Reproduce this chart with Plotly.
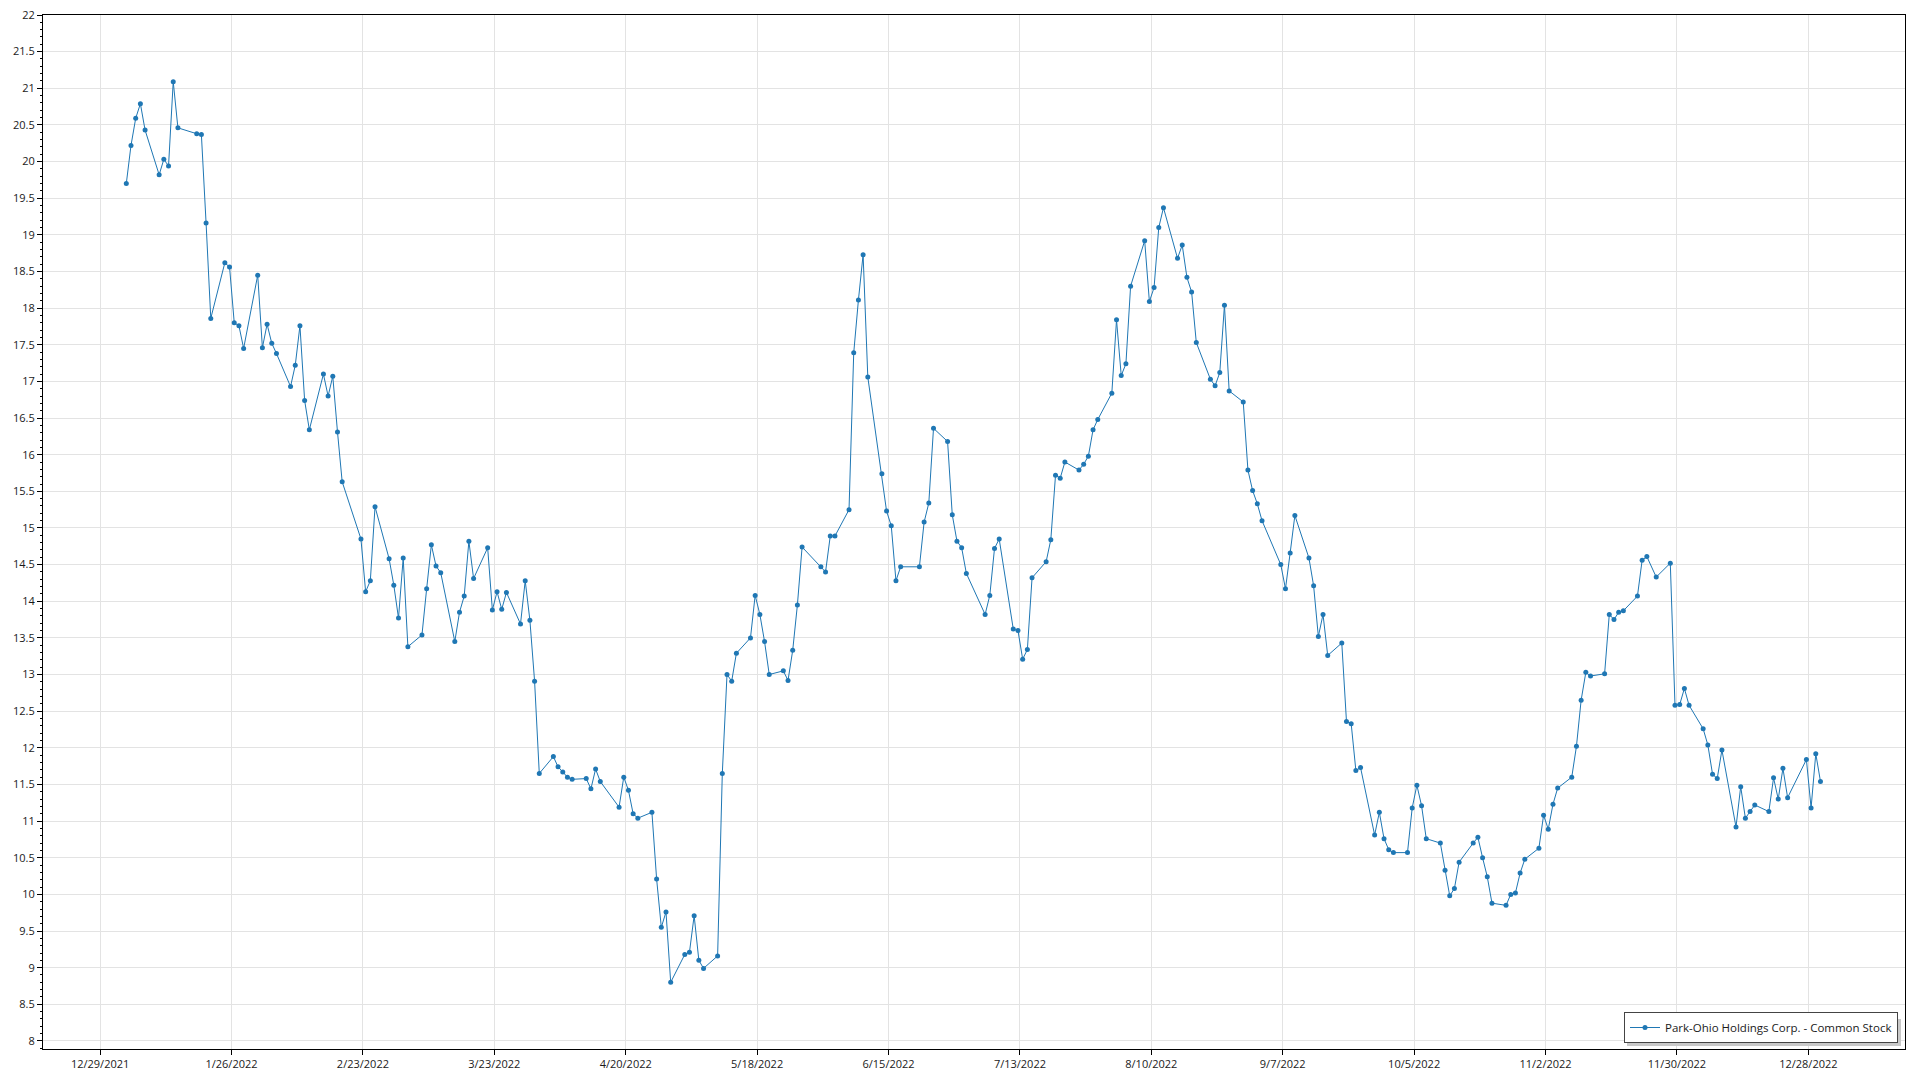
import plotly.graph_objects as go
import pandas as pd

series_name = "Park-Ohio Holdings Corp. - Common Stock"

dates = [
    # Jan 2022
    "2022-01-03", "2022-01-04", "2022-01-05", "2022-01-06", "2022-01-07",
    "2022-01-10", "2022-01-11", "2022-01-12", "2022-01-13", "2022-01-14",
    "2022-01-18", "2022-01-19", "2022-01-20", "2022-01-21",
    "2022-01-24", "2022-01-25", "2022-01-26", "2022-01-27", "2022-01-28", "2022-01-31",
    # Feb
    "2022-02-01", "2022-02-02", "2022-02-03", "2022-02-04",
    "2022-02-07", "2022-02-08", "2022-02-09", "2022-02-10", "2022-02-11",
    "2022-02-14", "2022-02-15", "2022-02-16", "2022-02-17", "2022-02-18",
    "2022-02-22", "2022-02-23", "2022-02-24", "2022-02-25", "2022-02-28",
    # Mar
    "2022-03-01", "2022-03-02", "2022-03-03", "2022-03-04",
    "2022-03-07", "2022-03-08", "2022-03-09", "2022-03-10", "2022-03-11",
    "2022-03-14", "2022-03-15", "2022-03-16", "2022-03-17", "2022-03-18",
    "2022-03-21", "2022-03-22", "2022-03-23", "2022-03-24", "2022-03-25",
    "2022-03-28", "2022-03-29", "2022-03-30", "2022-03-31",
    # Apr
    "2022-04-01", "2022-04-04", "2022-04-05", "2022-04-06", "2022-04-07", "2022-04-08",
    "2022-04-11", "2022-04-12", "2022-04-13", "2022-04-14",
    "2022-04-18", "2022-04-19", "2022-04-20", "2022-04-21", "2022-04-22",
    "2022-04-25", "2022-04-26", "2022-04-27", "2022-04-28", "2022-04-29",
    # May
    "2022-05-02", "2022-05-03", "2022-05-04", "2022-05-05", "2022-05-06",
    "2022-05-09", "2022-05-10", "2022-05-11", "2022-05-12", "2022-05-13",
    "2022-05-16", "2022-05-17", "2022-05-18", "2022-05-19", "2022-05-20",
    "2022-05-23", "2022-05-24", "2022-05-25", "2022-05-26", "2022-05-27",
    "2022-05-31",
    # Jun
    "2022-06-01", "2022-06-02", "2022-06-03",
    "2022-06-06", "2022-06-07", "2022-06-08", "2022-06-09", "2022-06-10",
    "2022-06-13", "2022-06-14", "2022-06-15", "2022-06-16", "2022-06-17",
    "2022-06-21", "2022-06-22", "2022-06-23", "2022-06-24",
    "2022-06-27", "2022-06-28", "2022-06-29", "2022-06-30",
    # Jul
    "2022-07-01", "2022-07-05", "2022-07-06", "2022-07-07", "2022-07-08",
    "2022-07-11", "2022-07-12", "2022-07-13", "2022-07-14", "2022-07-15",
    "2022-07-18", "2022-07-19", "2022-07-20", "2022-07-21", "2022-07-22",
    "2022-07-25", "2022-07-26", "2022-07-27", "2022-07-28", "2022-07-29",
    # Aug
    "2022-08-01", "2022-08-02", "2022-08-03", "2022-08-04", "2022-08-05",
    "2022-08-08", "2022-08-09", "2022-08-10", "2022-08-11", "2022-08-12",
    "2022-08-15", "2022-08-16", "2022-08-17", "2022-08-18", "2022-08-19",
    "2022-08-22", "2022-08-23", "2022-08-24", "2022-08-25", "2022-08-26",
    "2022-08-29", "2022-08-30", "2022-08-31",
    # Sep
    "2022-09-01", "2022-09-02",
    "2022-09-06", "2022-09-07", "2022-09-08", "2022-09-09",
    "2022-09-12", "2022-09-13", "2022-09-14", "2022-09-15", "2022-09-16",
    "2022-09-19", "2022-09-20", "2022-09-21", "2022-09-22", "2022-09-23",
    "2022-09-26", "2022-09-27", "2022-09-28", "2022-09-29", "2022-09-30",
    # Oct
    "2022-10-03", "2022-10-04", "2022-10-05", "2022-10-06", "2022-10-07",
    "2022-10-10", "2022-10-11", "2022-10-12", "2022-10-13", "2022-10-14",
    "2022-10-17", "2022-10-18", "2022-10-19", "2022-10-20", "2022-10-21",
    "2022-10-24", "2022-10-25", "2022-10-26", "2022-10-27", "2022-10-28",
    "2022-10-31",
    # Nov
    "2022-11-01", "2022-11-02", "2022-11-03", "2022-11-04",
    "2022-11-07", "2022-11-08", "2022-11-09", "2022-11-10", "2022-11-11",
    "2022-11-14", "2022-11-15", "2022-11-16", "2022-11-17", "2022-11-18",
    "2022-11-21", "2022-11-22", "2022-11-23", "2022-11-25",
    "2022-11-28", "2022-11-29", "2022-11-30",
    # Dec
    "2022-12-01", "2022-12-02",
    "2022-12-05", "2022-12-06", "2022-12-07", "2022-12-08", "2022-12-09",
    "2022-12-12", "2022-12-13", "2022-12-14", "2022-12-15", "2022-12-16",
    "2022-12-19", "2022-12-20", "2022-12-21", "2022-12-22", "2022-12-23",
    "2022-12-27", "2022-12-28", "2022-12-29", "2022-12-30",
]

prices = [
    # Jan
    19.70, 20.22, 20.59, 20.79, 20.43,
    19.82, 20.03, 19.94, 21.09, 20.46,
    20.38, 20.37, 19.16, 17.86,
    18.62, 18.56, 17.80, 17.76, 17.45, 18.45,
    # Feb
    17.46, 17.78, 17.52, 17.38,
    16.93, 17.22, 17.76, 16.74, 16.34,
    17.10, 16.80, 17.07, 16.31, 15.63,
    14.85, 14.13, 14.28, 15.29, 14.58,
    # Mar
    14.22, 13.77, 14.59, 13.38,
    13.54, 14.17, 14.77, 14.48, 14.39,
    13.45, 13.85, 14.07, 14.82, 14.31,
    14.73, 13.88, 14.13, 13.89, 14.12,
    13.69, 14.28, 13.74, 12.91,
    # Apr
    11.65, 11.88, 11.74, 11.67, 11.60, 11.57,
    11.58, 11.44, 11.71, 11.54,
    11.19, 11.60, 11.42, 11.10, 11.04,
    11.12, 10.21, 9.55, 9.76, 8.80,
    # May
    9.18, 9.21, 9.71, 9.10, 8.99,
    9.16, 11.65, 13.00, 12.91, 13.29,
    13.50, 14.08, 13.82, 13.45, 13.00,
    13.05, 12.92, 13.33, 13.95, 14.74,
    14.47,
    # Jun
    14.40, 14.89, 14.89,
    15.25, 17.39, 18.11, 18.73, 17.06,
    15.74, 15.23, 15.03, 14.28, 14.47,
    14.47, 15.08, 15.34, 16.36,
    16.18, 15.18, 14.82, 14.73,
    # Jul
    14.38, 13.82, 14.08, 14.72, 14.85,
    13.62, 13.60, 13.21, 13.34, 14.32,
    14.54, 14.84, 15.72, 15.68, 15.90,
    15.79, 15.87, 15.98, 16.34, 16.48,
    # Aug
    16.84, 17.84, 17.08, 17.24, 18.30,
    18.92, 18.09, 18.28, 19.10, 19.37,
    18.68, 18.86, 18.42, 18.22, 17.53,
    17.03, 16.94, 17.12, 18.04, 16.87,
    16.72, 15.79, 15.51,
    # Sep
    15.33, 15.10,
    14.50, 14.17, 14.66, 15.17,
    14.59, 14.21, 13.52, 13.82, 13.26,
    13.43, 12.36, 12.33, 11.69, 11.73,
    10.81, 11.12, 10.76, 10.61, 10.57,
    # Oct
    10.57, 11.18, 11.49, 11.21, 10.76,
    10.70, 10.33, 9.98, 10.08, 10.44,
    10.70, 10.78, 10.50, 10.24, 9.88,
    9.85, 10.00, 10.02, 10.29, 10.48,
    10.63,
    # Nov
    11.08, 10.89, 11.23, 11.45,
    11.60, 12.02, 12.65, 13.03, 12.98,
    13.01, 13.82, 13.75, 13.85, 13.87,
    14.07, 14.56, 14.61, 14.33,
    14.52, 12.58, 12.59,
    # Dec
    12.81, 12.58,
    12.26, 12.04, 11.64, 11.58, 11.97,
    10.92, 11.47, 11.04, 11.13, 11.22,
    11.13, 11.59, 11.30, 11.72, 11.32,
    11.84, 11.18, 11.92, 11.54,
]

x_tick_dates = ["2021-12-29", "2022-01-26", "2022-02-23", "2022-03-23", "2022-04-20",
                "2022-05-18", "2022-06-15", "2022-07-13", "2022-08-10", "2022-09-07",
                "2022-10-05", "2022-11-02", "2022-11-30", "2022-12-28"]
x_tick_labels = ["12/29/2021", "1/26/2022", "2/23/2022", "3/23/2022", "4/20/2022",
                 "5/18/2022", "6/15/2022", "7/13/2022", "8/10/2022", "9/7/2022",
                 "10/5/2022", "11/2/2022", "11/30/2022", "12/28/2022"]
y_tick_values = [8, 8.5, 9, 9.5, 10, 10.5, 11, 11.5, 12, 12.5, 13, 13.5, 14, 14.5,
                 15, 15.5, 16, 16.5, 17, 17.5, 18, 18.5, 19, 19.5, 20, 20.5, 21, 21.5, 22]
y_tick_labels = ["8", "8.5", "9", "9.5", "10", "10.5", "11", "11.5", "12", "12.5", "13",
                 "13.5", "14", "14.5", "15", "15.5", "16", "16.5", "17", "17.5", "18",
                 "18.5", "19", "19.5", "20", "20.5", "21", "21.5", "22"]

# layout geometry (pixels)
W, H = 1920, 1080
L, R, T, B = 43, 15, 15, 31
FONT = "Open Sans, Segoe UI, sans-serif"
LINE_COLOR = "#1f77b4"

# the reference draws its tick marks ~half a day ahead of the data points
shift = pd.Timedelta(hours=14)
tick_pos = [pd.Timestamp(d) - shift for d in x_tick_dates]
x_range = [pd.Timestamp("2021-12-16 06:00"), pd.Timestamp("2023-01-17 00:15")]

fig = go.Figure()
fig.add_trace(go.Scatter(
    x=pd.to_datetime(dates), y=prices, mode="lines+markers", name=series_name,
    line=dict(color=LINE_COLOR, width=1),
    marker=dict(color=LINE_COLOR, size=5),
    showlegend=True,
))

plot_w = W - L - R
plot_h = H - T - B

fig.update_layout(
    width=W, height=H,
    margin=dict(l=L, r=R, t=T, b=B, autoexpand=False),
    paper_bgcolor="white", plot_bgcolor="white",
    font=dict(family=FONT, size=11, color="#1a1a1a"),
    showlegend=True,
    legend=dict(
        x=(1898 - L) / plot_w, y=(H - B - 1043) / plot_h,
        xanchor="right", yanchor="bottom",
        bgcolor="white", bordercolor="#444444", borderwidth=1,
        font=dict(family=FONT, size=11.5, color="#1a1a1a"),
        itemwidth=30,
    ),
    xaxis=dict(
        type="date", range=x_range,
        tickmode="array", tickvals=tick_pos, ticktext=x_tick_labels,
        showgrid=True, gridcolor="#e3e3e3", gridwidth=1,
        showline=True, linecolor="black", linewidth=1, mirror=True,
        ticks="outside", ticklen=5, tickcolor="black",
        zeroline=False,
    ),
    yaxis=dict(
        range=[7.89, 22],
        tickmode="array", tickvals=y_tick_values, ticktext=y_tick_labels,
        showgrid=True, gridcolor="#e3e3e3", gridwidth=1,
        showline=True, linecolor="black", linewidth=1, mirror=True,
        ticks="outside", ticklen=5, tickcolor="black",
        minor=dict(dtick=0.1, tick0=8, ticks="outside", ticklen=2, tickcolor="black", showgrid=False),
        zeroline=False,
    ),
    shapes=[dict(
        type="rect", xref="paper", yref="paper", layer="above",
        x0=(1627 - L) / plot_w, x1=(1901 - L) / plot_w,
        y0=(H - B - 1046) / plot_h, y1=(H - B - 1019) / plot_h,
        fillcolor="#c8c8c8", line=dict(width=0),
    )],
)

fig.write_html("out.html", config={"displayModeBar": False},
               post_script="document.body.style.margin='0';")
